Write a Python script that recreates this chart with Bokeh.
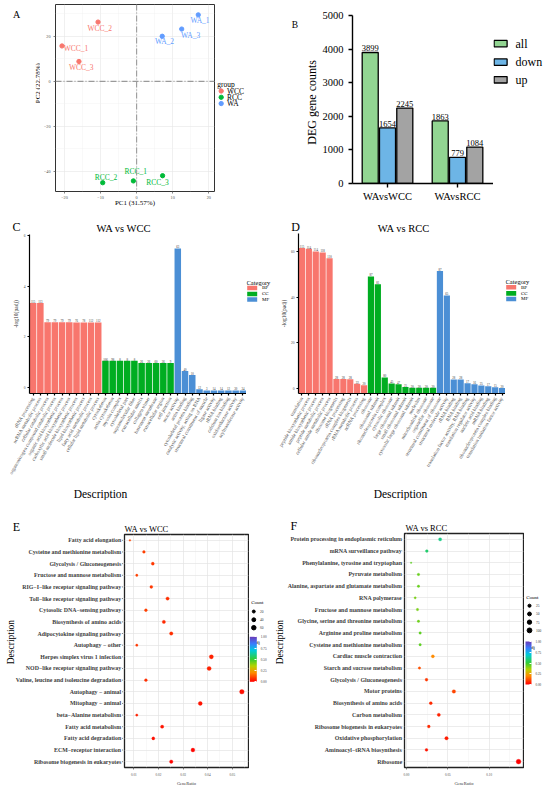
import math
import numpy as np
from bokeh.plotting import figure
from bokeh.models import (Range1d, FactorRange, FixedTicker, LinearColorMapper, ColorBar, Span,
                          ColumnDataSource, PrintfTickFormatter)
from bokeh.layouts import column, row
from bokeh.embed import file_html
from bokeh.resources import INLINE
from bokeh.core.properties import value

# ---------------- data ----------------
# A: PCA
pca_samples = ["WCC_1", "WCC_2", "WCC_3", "RCC_1", "RCC_2", "RCC_3", "WA_1", "WA_2", "WA_3"]
pca_group = ["WCC", "WCC", "WCC", "RCC", "RCC", "RCC", "WA", "WA", "WA"]
pca_pc1 = [-20.7, -10.7, -16.0, -0.9, -9.4, 7.2, 17.1, 7.1, 12.5]
pca_pc2 = [15.7, 26.3, 8.8, -44.2, -45.0, -41.9, 29.5, 20.0, 23.2]
pca_groups = ["WCC", "RCC", "WA"]

# B: DEG counts
deg_comparisons = ["WAvsWCC", "WAvsRCC"]
deg_series = ["all", "down", "up"]
deg_all = [3899, 1863]
deg_down = [1654, 779]
deg_up = [2245, 1084]
deg_ticks = [0, 1000, 2000, 3000, 4000, 5000]

# C / D: GO enrichment
go_categories = ["BP", "CC", "MF"]
go_c_terms = [
    "tRNA processing", "ncRNA metabolic process", "cellular catabolic process",
    "organonitrogen compound catabolic process", "organic acid biosynthetic process",
    "carboxylic acid biosynthetic process", "small molecule biosynthetic process",
    "lipid biosynthetic process", "fatty acid metabolic process", "cellular lipid metabolic process",
    "cytoskeleton", "actin cytoskeleton", "myosin complex", "cytoskeletal part",
    "supramolecular fiber", "extracellular matrix", "collagen trimer", "basement membrane",
    "extracellular region", "cell junction",
    "motor activity", "actin binding", "cytoskeletal protein binding",
    "catalytic activity, acting on RNA", "structural constituent of muscle",
    "ligase activity", "tRNA binding", "calcium ion binding", "oxidoreductase activity",
    "acyltransferase activity"]
go_c_cats = ["BP"] * 10 + ["CC"] * 10 + ["MF"] * 10
go_c_values = [3.34, 3.34, 2.57, 2.57, 2.57, 2.57, 2.56, 2.56, 2.56, 2.56,
               1.05, 1.05, 1.05, 1.05, 1.05, 0.96, 0.96, 0.96, 0.96, 0.96,
               5.50, 0.64, 0.48, -0.08, -0.13, -0.13, -0.13, -0.13, -0.13, -0.13]
go_c_counts = ["115", "113", "79", "79", "79", "79", "76", "78", "112", "112",
               "106", "98", "8", "8", "8", "26", "26", "60", "26", "9",
               "63", "40", "10", "12", "3", "14", "14", "12", "30", "34"]
go_c_ticks = [0, 2, 4, 6]

go_d_terms = [
    "translation", "peptide biosynthetic process", "amide biosynthetic process",
    "peptide metabolic process", "cellular amide metabolic process",
    "ribosome biogenesis", "rRNA processing", "ribonucleoprotein complex biogenesis",
    "rRNA metabolic process", "ncRNA processing",
    "ribosome", "ribosomal subunit", "ribonucleoprotein complex", "cytosolic ribosome",
    "large ribosomal subunit", "small ribosomal subunit", "cytosolic large ribosomal subunit",
    "nucleolus", "mitochondrial ribosome", "organellar ribosome",
    "structural constituent of ribosome", "structural molecule activity", "rRNA binding",
    "RNA binding", "translation factor activity, RNA binding", "translation regulator activity",
    "nucleic acid binding", "mRNA binding", "ribonucleoprotein complex binding",
    "translation initiation factor activity"]
go_d_cats = ["BP"] * 10 + ["CC"] * 10 + ["MF"] * 10
go_d_values = [61.5, 61.2, 60.0, 59.6, 57.0, 4.1, 4.1, 4.0, 2.0, 1.3,
               49.0, 45.6, 4.7, 2.1, 1.8, 0.6, 0.2, 0.2, 0.2, 0.2,
               51.4, 40.7, 3.8, 3.8, 2.2, 1.8, 1.2, 0.9, 0.4, 0.15]
go_d_counts = ["115", "114", "114", "118", "110", "28", "28", "28", "22", "20",
               "87", "81", "80", "45", "47", "25", "20", "20", "20", "20",
               "87", "65", "28", "28", "17", "16", "25", "17", "15", "20"]
go_d_ticks = [0, 20, 40, 60]

# E / F: KEGG enrichment
kegg_e_terms = [
    "Fatty acid elongation", "Cysteine and methionine metabolism", "Glycolysis / Gluconeogenesis",
    "Fructose and mannose metabolism", "RIG\u2212I\u2212like receptor signaling pathway",
    "Toll\u2212like receptor signaling pathway", "Cytosolic DNA\u2212sensing pathway",
    "Biosynthesis of amino acids", "Adipocytokine signaling pathway", "Autophagy \u2212 other",
    "Herpes simplex virus 1 infection", "NOD\u2212like receptor signaling pathway",
    "Valine, leucine and isoleucine degradation", "Autophagy \u2212 animal", "Mitophagy \u2212 animal",
    "beta\u2212Alanine metabolism", "Fatty acid metabolism", "Fatty acid degradation",
    "ECM\u2212receptor interaction", "Ribosome biogenesis in eukaryotes"]
kegg_e_ratio = [0.0084, 0.0141, 0.0177, 0.0112, 0.0171, 0.0237, 0.0149, 0.0222, 0.0252, 0.0112,
                0.0415, 0.0406, 0.0149, 0.0539, 0.0370, 0.0112, 0.0215, 0.0179, 0.0340, 0.0252]
kegg_e_count = [10, 17, 21, 13, 20, 28, 18, 26, 30, 13, 49, 48, 18, 64, 44, 13, 26, 21, 40, 30]
kegg_e_padj = [0.10, 0.09, 0.08, 0.09, 0.08, 0.07, 0.09, 0.06, 0.07, 0.08,
               0.05, 0.05, 0.07, 0.02, 0.03, 0.05, 0.03, 0.02, 0.01, 0.01]
kegg_e_xticks = [0.01, 0.02, 0.03, 0.04, 0.05]
kegg_e_size_legend = [20, 40, 60]

kegg_f_terms = [
    "Protein processing in endoplasmic reticulum", "mRNA surveillance pathway",
    "Phenylalanine, tyrosine and tryptophan", "Pyruvate metabolism",
    "Alanine, aspartate and glutamate metabolism", "RNA polymerase",
    "Fructose and mannose metabolism", "Glycine, serine and threonine metabolism",
    "Arginine and proline metabolism", "Cysteine and methionine metabolism",
    "Cardiac muscle contraction", "Starch and sucrose metabolism", "Glycolysis / Gluconeogenesis",
    "Motor proteins", "Biosynthesis of amino acids", "Carbon metabolism",
    "Ribosome biogenesis in eukaryotes", "Oxidative phosphorylation",
    "Aminoacyl\u2212tRNA biosynthesis", "Ribosome"]
kegg_f_ratio = [0.0407, 0.0246, 0.0056, 0.0145, 0.0145, 0.0105, 0.0133, 0.0145, 0.0165, 0.0165,
                0.0319, 0.0157, 0.0242, 0.0573, 0.0294, 0.0391, 0.0270, 0.0484, 0.0242, 0.1355]
kegg_f_count = [30, 18, 4, 11, 11, 8, 10, 11, 12, 12, 24, 12, 18, 42, 22, 29, 20, 36, 18, 100]
kegg_f_padj = [0.60, 0.57, 0.45, 0.44, 0.44, 0.42, 0.42, 0.43, 0.45, 0.45,
               0.20, 0.12, 0.08, 0.10, 0.06, 0.05, 0.06, 0.04, 0.03, 0.00]
kegg_f_xticks = [0.00, 0.05, 0.10]
kegg_f_size_legend = [25, 50, 75, 100]
padj_ticks = [0.0, 0.25, 0.5, 0.75, 1.0]

# ---------------- helpers ----------------
SX = 1.0
SY = 1.0
SERIF = "Liberation Serif"


def PX(x):
    return round(x * SX)


def PY(y):
    return round(y * SY)


def fs(v):
    return f"{v * SX:.2f}px"


def _base(p):
    p.outline_line_color = None
    p.background_fill_color = "white"
    p.border_fill_color = "white"
    return p


def canvas(P, x0, x1, y0, y1, y_range=None, top=0, bottom=0):
    ox, oy = P
    p = figure(width=PX(ox + x1) - PX(ox + x0), height=PY(oy + y1) - PY(oy + y0),
               x_range=Range1d(x0, x1), y_range=y_range if y_range is not None else Range1d(y1, y0),
               min_border_left=0, min_border_right=0, min_border_top=top, min_border_bottom=bottom,
               x_axis_location=None, y_axis_location=None, output_backend="svg",
               toolbar_location=None, title=None)
    p.xgrid.visible = False
    p.ygrid.visible = False
    return _base(p)


def main_fig(P, x0, x1, y0, y1, frame, x_range, y_range):
    ox, oy = P
    l, t, r, b = frame
    p = figure(width=PX(ox + x1) - PX(ox + x0), height=PY(oy + y1) - PY(oy + y0),
               x_range=x_range, y_range=y_range,
               min_border_left=PX(ox + l) - PX(ox + x0), min_border_right=PX(ox + x1) - PX(ox + r),
               min_border_top=PY(oy + t) - PY(oy + y0), min_border_bottom=PY(oy + y1) - PY(oy + b),
               output_backend="svg", toolbar_location=None, title=None)
    return _base(p)


def ctext(p, text, x, y, size, align="center", baseline="middle", angle=0.0, color="black",
          style="normal", font=SERIF):
    p.text(x=[x], y=[y], text=[text], text_font=value(font), text_font_size=fs(size),
           text_align=align, text_baseline=baseline, angle=angle, text_color=color,
           text_font_style=style)


def style_axis(ax, size, color="#4D4D4D", tick=2, tick_color="#333333", line_color=None,
               line_width=1.0, standoff=2, style="normal"):
    ax.major_label_text_font = SERIF
    ax.major_label_text_font_size = fs(size)
    ax.major_label_text_color = color
    ax.major_label_text_font_style = style
    ax.major_tick_out = tick
    ax.major_tick_in = 0
    ax.major_tick_line_color = tick_color
    ax.major_tick_line_width = line_width
    ax.minor_tick_line_color = None
    ax.axis_line_color = line_color
    ax.axis_line_width = line_width
    ax.major_label_standoff = standoff


def axis_title(ax, text, size, standoff, color="black"):
    ax.axis_label = text
    ax.axis_label_text_font = SERIF
    ax.axis_label_text_font_size = fs(size)
    ax.axis_label_text_font_style = "normal"
    ax.axis_label_text_color = color
    ax.axis_label_standoff = standoff


def make_palette(anchors, n=256):
    pos = [a[0] for a in anchors]
    rgb = np.array([[int(c[1:3], 16), int(c[3:5], 16), int(c[5:7], 16)] for _, c in anchors], float)
    out = []
    for x in np.linspace(0, 1, n):
        r, g, b = (np.interp(x, pos, rgb[:, i]) for i in range(3))
        out.append("#%02x%02x%02x" % (int(round(r)), int(round(g)), int(round(b))))
    return out


# ---------------- A: PCA ----------------
PA = (0, 0)
leftA = canvas(PA, 0, 40, 0, 209)
ctext(leftA, "A", 16, 11.7, 10)
ctext(leftA, "PC2 (22.78%)", 37, 88, 7, angle=math.pi / 2)

pA = main_fig(PA, 40, 216, 0, 209, (49, 4, 214, 196), Range1d(-22.5, 21.6), Range1d(-48.9, 34.1))
pA.outline_line_color = "#333333"
pA.outline_line_width = 1.0
xtA = FixedTicker(ticks=[-20, -10, 0, 10, 20], minor_ticks=[-15, -5, 5, 15])
ytA = FixedTicker(ticks=[-40, -20, 0, 20], minor_ticks=[-30, -10, 10, 30])
pA.xaxis.ticker = xtA
pA.xgrid.ticker = xtA
pA.yaxis.ticker = ytA
pA.ygrid.ticker = ytA
for gr in (pA.xgrid, pA.ygrid):
    gr.grid_line_color = "#E6E6E6"
    gr.grid_line_width = 0.6
    gr.minor_grid_line_color = "#F1F1F1"
    gr.minor_grid_line_width = 0.4
style_axis(pA.xaxis, 4.2, tick=2, standoff=0, line_width=0.6)
style_axis(pA.yaxis, 4.2, tick=2, standoff=1, line_width=0.6)
axis_title(pA.xaxis, "PC1 (31.57%)", 7, -3)
pA.add_layout(Span(location=0, dimension="height", line_color="#9A9A9A", line_dash="6 2 1 2", line_width=1.1))
pA.add_layout(Span(location=0, dimension="width", line_color="#9A9A9A", line_dash="6 2 1 2", line_width=1.1))
grp_col = {"WCC": "#F8766D", "RCC": "#00BA38", "WA": "#619CFF"}
offx = [14, 1.7, 2.3, 2.3, 3.3, -5, 1.7, 2.3, 9]
offy = [2.3, 6, 6.3, -9, -5, 7, 6, 5.3, 6.3]
srcA = ColumnDataSource(dict(x=pca_pc1, y=pca_pc2, name=pca_samples,
                             color=[grp_col[g] for g in pca_group],
                             dx=[o * SX for o in offx], dy=[o * SY for o in offy]))
pA.scatter("x", "y", source=srcA, size=4.3 * SX, color="color")
pA.text("x", "y", text="name", source=srcA, x_offset="dx", y_offset="dy", text_color="color",
        text_font=value(SERIF), text_font_size=fs(7.5), text_align="center", text_baseline="middle")

rightA = canvas(PA, 216, 275, 0, 209)
ctext(rightA, "group", 216.7, 89.3, 7.5, align="left")
legA_y = [96.7 + 7 * i for i in range(len(pca_groups))]
rightA.scatter(x=[220.7] * len(pca_groups), y=legA_y, size=4.3 * SX, color=[grp_col[g] for g in pca_groups])
for gname, yy in zip(pca_groups, legA_y):
    ctext(rightA, gname, 226.5, yy, 7.5, align="left")
panelA = row(leftA, pA, rightA)

# ---------------- B: DEG bars ----------------
PB = (275, 0)
leftB = canvas(PB, 0, 44, 0, 209)
ctext(leftB, "B", 19.3, 11.7, 9.5)
ctext(leftB, "DEG gene counts", 36, 108, 12, angle=math.pi / 2)

pB = main_fig(PB, 44, 218, 0, 209, (77, 15, 218, 183), Range1d(0.5, 2.514), Range1d(0, 5000))
pB.grid.visible = False
deg_cols = {"all": "#92D592", "down": "#6DB5E6", "up": "#A3A3A3"}
for k, (name, vals) in enumerate(zip(deg_series, [deg_all, deg_down, deg_up])):
    xs = [i + 1 + (k - 1) * 0.247 for i in range(len(deg_comparisons))]
    pB.vbar(x=xs, top=vals, width=0.229, fill_color=deg_cols[name], line_color="black", line_width=1.3)
    pB.text(x=xs, y=vals, text=[str(v) for v in vals], text_font=value(SERIF), text_font_size=fs(8.5),
            text_align="center", text_baseline="bottom", y_offset=-1)
pB.xaxis.ticker = FixedTicker(ticks=[1, 2])
pB.xaxis.major_label_overrides = {i + 1: c for i, c in enumerate(deg_comparisons)}
style_axis(pB.xaxis, 10.5, color="black", tick=4, tick_color="black", line_color="black", line_width=1.4, standoff=3)
pB.yaxis.ticker = FixedTicker(ticks=deg_ticks)
style_axis(pB.yaxis, 10.5, color="black", tick=4, tick_color="black", line_color="black", line_width=1.4, standoff=5)

rightB = canvas(PB, 218, 275, 0, 209)
legB_y = [35, 58, 80]
rightB.quad(left=[218.6] * 3, right=[231.6] * 3, top=[y - 4 for y in legB_y], bottom=[y + 4 for y in legB_y],
            fill_color=[deg_cols[s] for s in deg_series], line_color="black", line_width=1.3)
for s, yy in zip(deg_series, legB_y):
    ctext(rightB, s, 240, yy, 12, align="left")
panelB = row(leftB, pB, rightB)

# ---------------- C / D: GO bars ----------------
go_cols = {"BP": "#F8766D", "CC": "#00AD21", "MF": "#4B8FD5"}


def go_panel(P, terms, values, counts, cats, yticks, frame, yr, title, title_x, letter_xy,
             ytitle_standoff, desc_x, leg_x):
    l, t, r, b = frame
    top = canvas(P, 0, 275, 0, 24)
    ctext(top, letter_xy[2], letter_xy[0], letter_xy[1], 12)
    ctext(top, title, title_x, 24, 10.5, baseline="bottom")

    p = main_fig(P, 0, r, 24, 272, frame, FactorRange(factors=terms), Range1d(*yr))
    p.grid.visible = False
    for cat in go_categories:
        xs = [tt for tt, c in zip(terms, cats) if c == cat]
        ys = [v for v, c in zip(values, cats) if c == cat]
        p.vbar(x=xs, top=ys, bottom=yr[0], width=0.9, fill_color=go_cols[cat], line_color=None)
    p.text(x=terms, y=values, text=counts, y_offset=-0.5, text_font=value(SERIF), text_font_size=fs(3),
           text_align="center", text_baseline="bottom", text_color="#333333")
    p.xaxis.major_label_orientation = math.pi / 3
    style_axis(p.xaxis, 5, color="#4D4D4D", tick=2, tick_color="black", line_color="black",
               line_width=1.2, standoff=2)
    p.yaxis.ticker = FixedTicker(ticks=yticks)
    style_axis(p.yaxis, 3.6, color="#4D4D4D", tick=2, tick_color="black", line_color="black",
               line_width=1.2, standoff=2)
    axis_title(p.yaxis, "-log10(padj)", 5.5, ytitle_standoff, color="#333333")

    right = canvas(P, r, 275, 24, 272)
    ctext(right, "Category", leg_x, 98.3, 6.5, align="left")
    rows_y = [107.3, 116.8, 125.5]
    right.quad(left=[leg_x + 0.7] * 3, right=[leg_x + 10.7] * 3, top=[y - 3.5 for y in rows_y],
               bottom=[y + 3.5 for y in rows_y], fill_color=[go_cols[c] for c in go_categories],
               line_color=None)
    for c, yy in zip(go_categories, rows_y):
        ctext(right, c, leg_x + 15.5, yy, 5, align="left")

    bottom = canvas(P, 0, 275, 272, 291)
    ctext(bottom, "Description", desc_x, 284, 11.5)
    return column(top, row(p, right), bottom)


panelC = go_panel((0, 209), go_c_terms, go_c_values, go_c_counts, go_c_cats, go_c_ticks,
                  (29, 25, 246, 184), (-0.25, 6.05), "WA vs WCC", 123.3, (16, 17, "C"), 2, 100, 246)
panelD = go_panel((275, 209), go_d_terms, go_d_values, go_d_counts, go_d_cats, go_d_ticks,
                  (23, 24, 230, 184), (-2.3, 67.9), "WA vs RCC", 128.3, (20, 17, "D"), 1, 125, 230)

# ---------------- E / F: KEGG dots ----------------
padj_palette = make_palette([(0.0, "#FF0000"), (0.2, "#FF8C00"), (0.35, "#B5D400"), (0.5, "#33CC33"),
                             (0.7, "#00CCDD"), (0.85, "#3A7BFF"), (1.0, "#6A3DB8")])
mapper = LinearColorMapper(palette=padj_palette, low=0, high=1)


def kegg_panel(P, terms, ratio, count, padj, xticks, minor, frame, xr, ht, split_l, label_x, dsz,
               size_leg, leg, title, title_x, letter_xy, desc_x):
    l, t, r, b = frame
    ox, oy = P
    top = canvas(P, 0, 275, 0, ht)
    ctext(top, letter_xy[2], letter_xy[0], letter_xy[1], 12)
    ctext(top, title, title_x, ht, 8.5, align="left", baseline="bottom")

    yrange = FactorRange(factors=list(reversed(terms)))
    p = main_fig(P, split_l, 249, ht, 288, frame, Range1d(*xr), yrange)
    p.outline_line_color = "#222222"
    p.outline_line_width = 1.3
    xt = FixedTicker(ticks=xticks, minor_ticks=minor)
    p.xaxis.ticker = xt
    p.xgrid.ticker = xt
    p.xaxis.formatter = PrintfTickFormatter(format="%.2f")
    p.xgrid.grid_line_color = "#E4E4E4"
    p.xgrid.grid_line_width = 0.7
    p.xgrid.minor_grid_line_color = "#F0F0F0"
    p.xgrid.minor_grid_line_width = 0.5
    p.ygrid.grid_line_color = "#E4E4E4"
    p.ygrid.grid_line_width = 0.7
    style_axis(p.xaxis, 3.3, color="#4D4D4D", tick=2, tick_color="#333333", standoff=1, line_width=0.6)
    p.yaxis.visible = False
    axis_title(p.xaxis, "GeneRatio", 4.5, 2, color="#333333")
    cmin, cmax = min(count), max(count)

    def diam(c):
        return dsz[0] + (dsz[1] - dsz[0]) * math.sqrt(max(c - cmin, 0) / (cmax - cmin))

    src = ColumnDataSource(dict(term=terms, ratio=ratio, padj=padj, size=[diam(c) * SX for c in count]))
    p.scatter("ratio", "term", size="size", source=src,
              fill_color={"field": "padj", "transform": mapper},
              line_color={"field": "padj", "transform": mapper}, line_width=0.3)

    # category labels and ticks drawn on a strip that shares the categorical y scale
    left = canvas(P, 0, split_l, ht, 288, y_range=yrange,
                  top=PY(oy + t) - PY(oy + ht), bottom=PY(oy + 288) - PY(oy + b))
    n = len(terms)
    left.text(x=[label_x] * n, y=terms, text=terms, text_font=value(SERIF),
              text_font_size=fs(5.9), text_font_style="bold", text_color="#404040",
              text_align="right", text_baseline="middle")
    left.segment(x0=[label_x + 0.8] * n, x1=[split_l] * n, y0=terms, y1=terms,
                 line_color="#333333", line_width=0.6)
    ctext(left, "Description", desc_x, (b - 143) / (b - t) * n, 9.5, angle=math.pi / 2)

    right = canvas(P, 249, 275, ht, 288)
    ctext(right, "Count", leg["cx"], leg["cy"], 5, align="left")
    right.scatter(x=[leg["dx"]] * len(size_leg), y=leg["dy"], size=[diam(c) * SX for c in size_leg],
                  color="black")
    for c, yy in zip(size_leg, leg["dy"]):
        ctext(right, str(c), leg["lx"], yy, 3.5, align="left", color="#333333")
    ctext(right, "padj", leg["cx"], leg["py"], 5, align="left")
    bx0, by0, bx1, by1 = leg["bar"]
    cb = ColorBar(color_mapper=mapper, orientation="vertical",
                  location=((bx0 - 249) * SX, (288 - by1) * SY),
                  width=round((bx1 - bx0) * SX), height=round((by1 - by0) * SY), padding=0, margin=0,
                  ticker=FixedTicker(ticks=padj_ticks), formatter=PrintfTickFormatter(format="%.2f"),
                  major_label_text_font=SERIF, major_label_text_font_size=fs(3.3),
                  major_label_text_color="#333333", major_tick_line_color="white", major_tick_in=2,
                  major_tick_out=0, minor_tick_line_color=None, bar_line_color=None,
                  label_standoff=round(4 * SX), background_fill_color=None, border_line_color=None)
    right.add_layout(cb)
    return column(top, row(left, p, right))


legE = dict(cx=250.7, cy=107.7, dx=253.3, dy=[117.3, 126.3, 135], lx=259.5, py=151.7,
            bar=(249.3, 157.7, 256, 202.3))
panelE = kegg_panel((0, 500), kegg_e_terms, kegg_e_ratio, kegg_e_count, kegg_e_padj, kegg_e_xticks,
                    [0.015, 0.025, 0.035, 0.045, 0.055], (124, 34, 248, 270), (0.0062, 0.0566), 33, 123,
                    120.7, (1.7, 4.6), kegg_e_size_legend, legE, "WA vs WCC", 124, (16, 26.7, "E"), 10)
legF = dict(cx=250.7, cy=101.7, dx=254, dy=[111, 120, 129, 138], lx=260.5, py=156.7,
            bar=(250, 161.7, 256, 205))
panelF = kegg_panel((275, 500), kegg_f_terms, kegg_f_ratio, kegg_f_count, kegg_f_padj, kegg_f_xticks,
                    [0.025, 0.075, 0.125], (129, 33, 248, 270), (-0.0024, 0.1415), 32, 128,
                    126.5, (1.6, 4.8), kegg_f_size_legend, legF, "WA vs RCC", 130, (18.3, 25.7, "F"), 4.7)

layout = column(row(panelA, panelB), row(panelC, panelD), row(panelE, panelF))
open("out.html", "w").write(file_html(layout, INLINE))
